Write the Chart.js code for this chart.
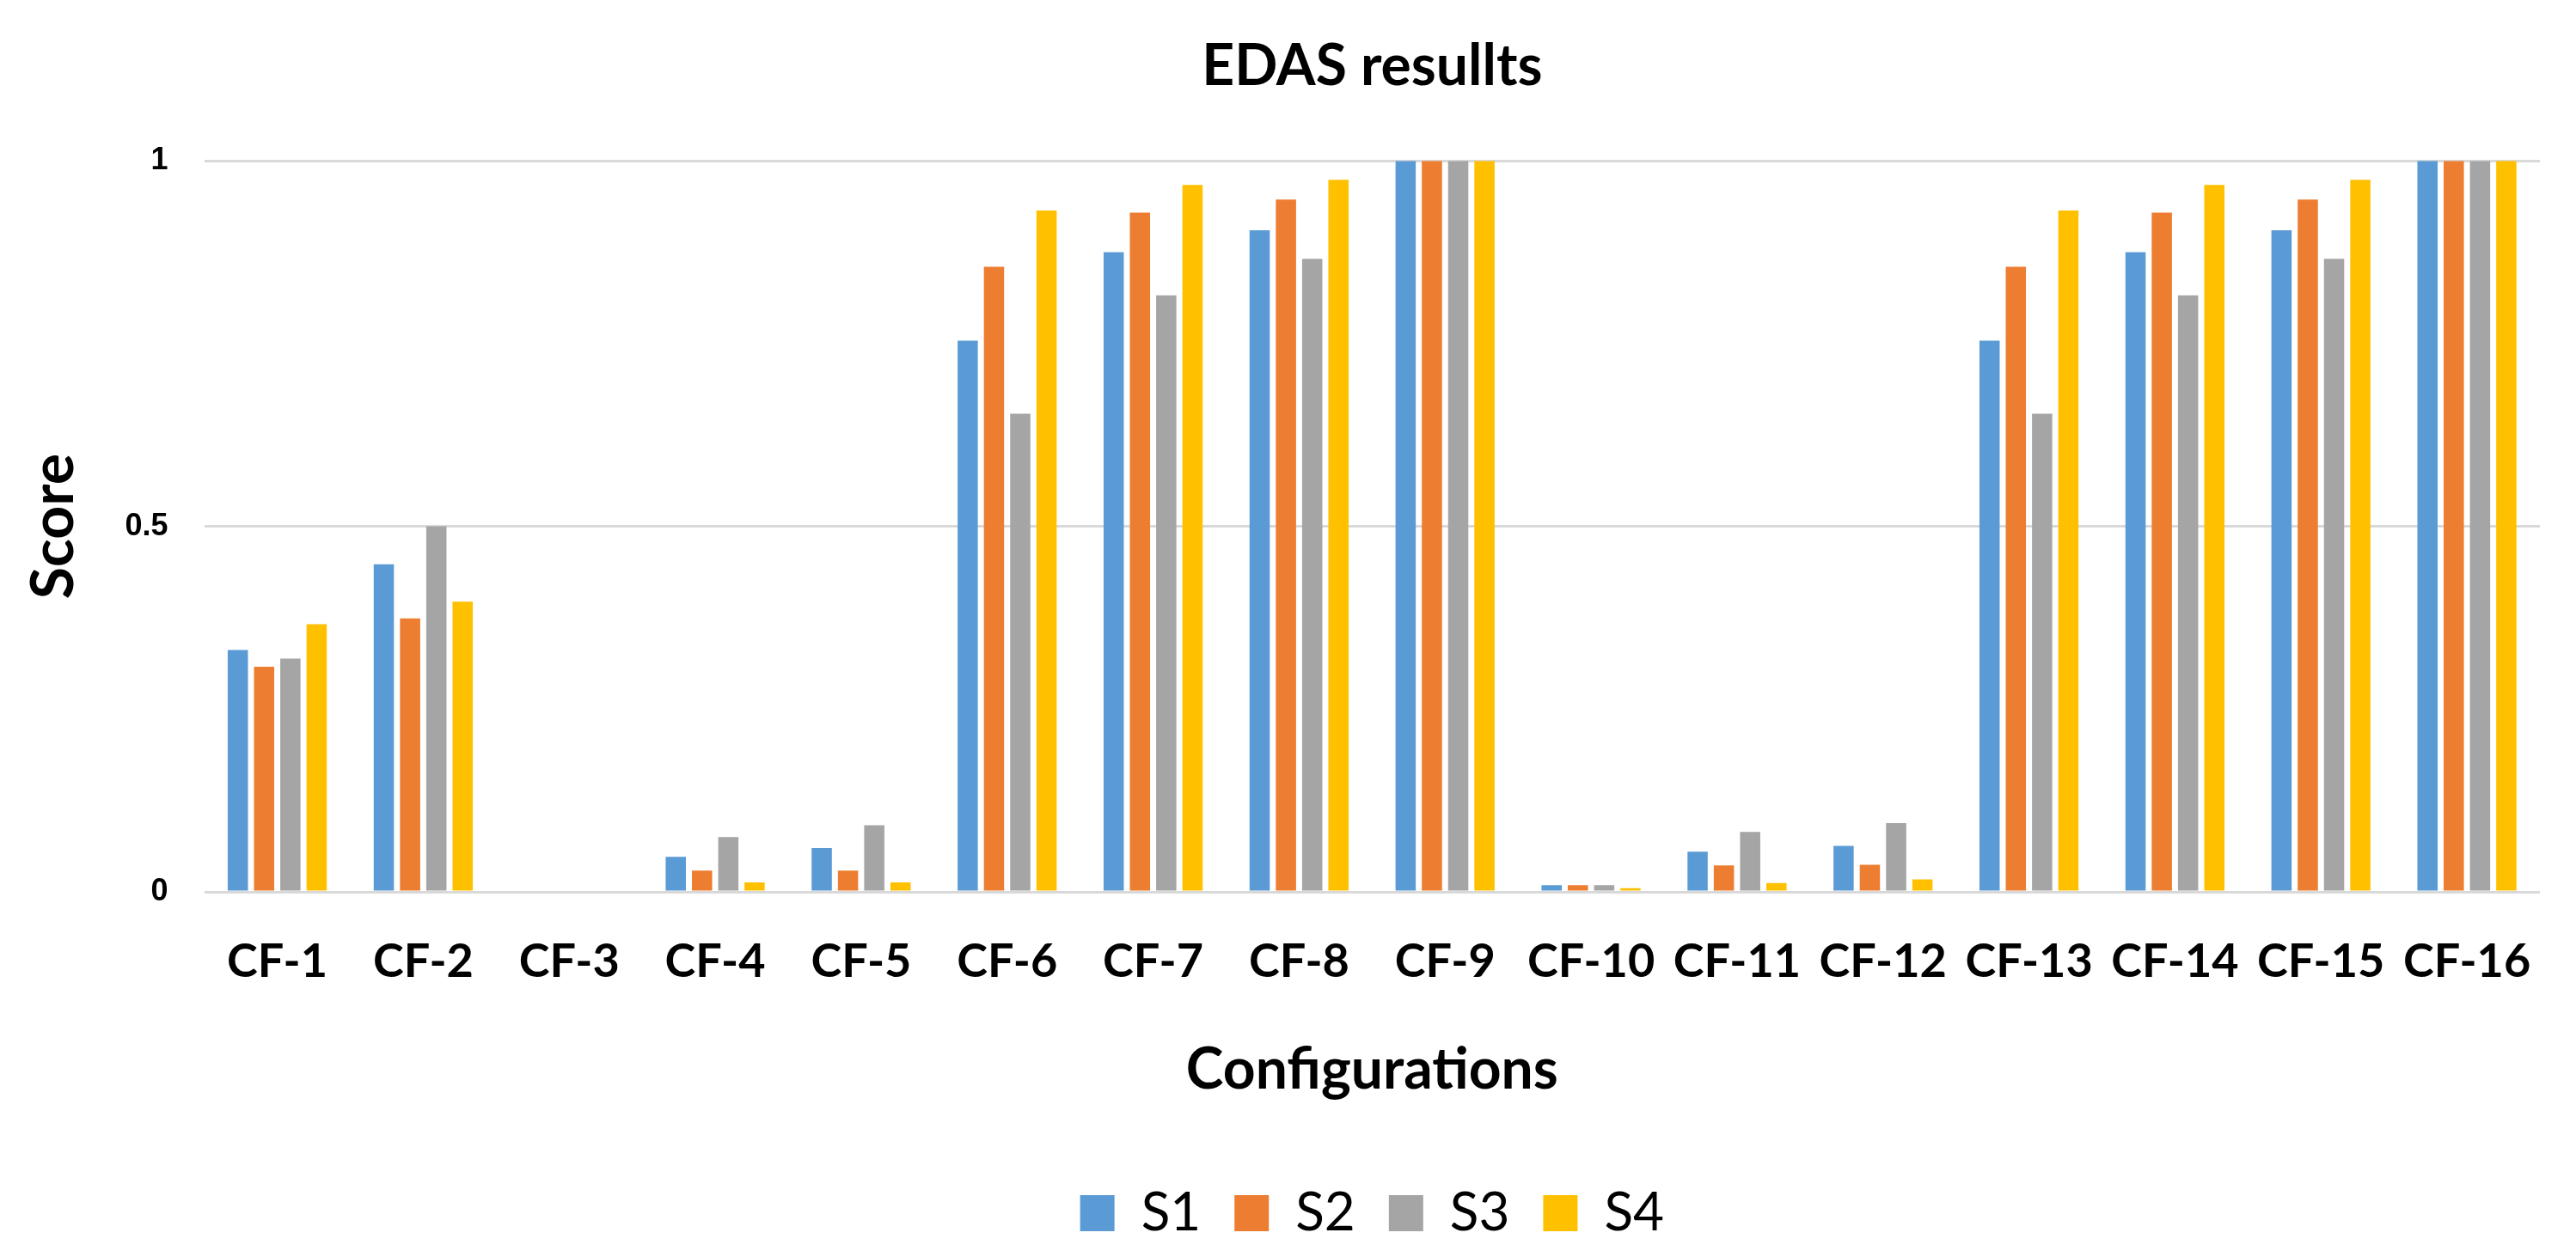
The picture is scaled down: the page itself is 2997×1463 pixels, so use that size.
<!DOCTYPE html>
<html>
<head>
<meta charset="utf-8">
<title>EDAS resullts</title>
<script src="https://cdn.jsdelivr.net/npm/chart.js@4.4.1/dist/chart.umd.min.js"></script>
<style>
    html, body { margin: 0; padding: 0; background: #fff; }
    #edasChart { display: block; }
</style>
</head>
<body>
<canvas id="edasChart" width="2997" height="1463"></canvas>
<script>
// categories and series
const configs = ['CF-1', 'CF-2', 'CF-3', 'CF-4', 'CF-5', 'CF-6', 'CF-7', 'CF-8',
    'CF-9', 'CF-10', 'CF-11', 'CF-12', 'CF-13', 'CF-14', 'CF-15', 'CF-16'];

const s1 = [0.331, 0.448, 0, 0.048, 0.060, 0.754, 0.875, 0.905, 1, 0.009, 0.055, 0.063, 0.754, 0.875, 0.905, 1];
const s2 = [0.308, 0.374, 0, 0.029, 0.029, 0.855, 0.929, 0.947, 1, 0.009, 0.036, 0.037, 0.855, 0.929, 0.947, 1];
const s3 = [0.319, 0.500, 0, 0.075, 0.091, 0.654, 0.816, 0.866, 1, 0.009, 0.082, 0.094, 0.654, 0.816, 0.866, 1];
const s4 = [0.366, 0.397, 0, 0.013, 0.013, 0.932, 0.967, 0.974, 1, 0.005, 0.012, 0.017, 0.932, 0.967, 0.974, 1];

const seriesNames = ['S1', 'S2', 'S3', 'S4'];
const yTicks = [0, 0.5, 1];

const colors = ['#5B9BD5', '#ED7D31', '#A5A5A5', '#FFC000'];

const ctx = document.getElementById('edasChart').getContext('2d');

Chart.defaults.color = '#000';
Chart.defaults.font.family = 'Lato, "Open Sans", sans-serif';

const datasets = [s1, s2, s3, s4].map((values, i) => ({
    label: seriesNames[i],
    data: values,
    backgroundColor: colors[i],
    borderWidth: 0,
    categoryPercentage: 0.72,
    barPercentage: 0.77
}));

const edasChart = new Chart(ctx, {
    type: 'bar',
    data: {
        labels: configs,
        datasets: datasets
    },
    options: {
        responsive: false,
        devicePixelRatio: 1,
        animation: false,
        layout: {
            padding: { left: 0, right: 42, top: 0, bottom: 10 }
        },
        plugins: {
            title: {
                display: true,
                text: 'EDAS resullts',
                fullSize: false,
                font: { size: 66, weight: 'bold' },
                padding: { top: 38, bottom: 70 }
            },
            legend: {
                position: 'bottom',
                fullSize: false,
                labels: {
                    boxWidth: 40,
                    boxHeight: 42,
                    padding: 39,
                    font: { size: 62, weight: 'normal' }
                }
            },
            tooltip: { enabled: false }
        },
        scales: {
            x: {
                grid: { display: false, drawTicks: false },
                border: { display: false },
                ticks: {
                    autoSkip: false,
                    maxRotation: 0,
                    minRotation: 0,
                    padding: 49,
                    font: { size: 54, weight: 'bold' }
                },
                title: {
                    display: true,
                    text: 'Configurations',
                    font: { size: 66, weight: 'bold' },
                    padding: { top: 5, bottom: 57 }
                }
            },
            y: {
                min: 0,
                max: 1,
                afterBuildTicks: (axis) => {
                    axis.ticks = yTicks.map(v => ({ value: v }));
                },
                grid: { color: '#D9D9D9', lineWidth: 3, drawTicks: false },
                border: { display: false },
                ticks: {
                    padding: 42,
                    callback: (value) => String(value),
                    font: { family: '"Liberation Sans", Arial, sans-serif', size: 36, weight: 'bold' }
                },
                title: {
                    display: true,
                    text: 'Score',
                    font: { size: 68, weight: 'bold' },
                    padding: { top: 22, bottom: 0 }
                }
            }
        }
    }
});
</script>
</body>
</html>
